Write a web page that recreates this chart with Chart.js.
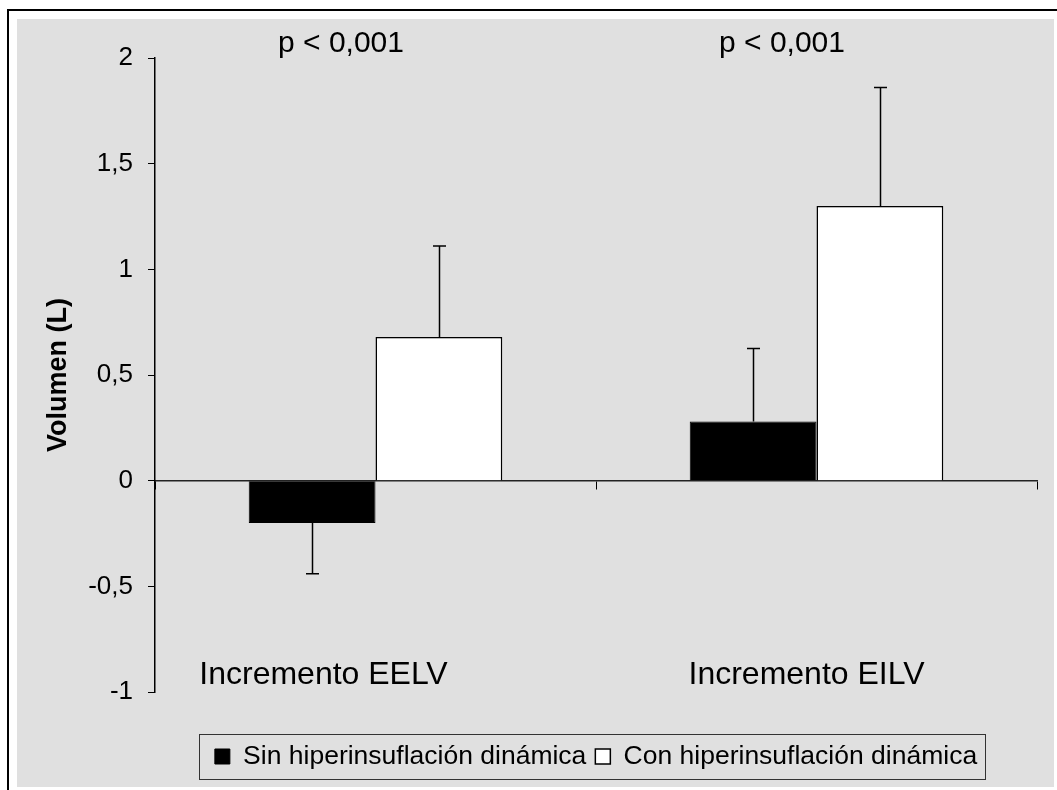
<!DOCTYPE html>
<html><head><meta charset="utf-8">
<script src="https://cdn.jsdelivr.net/npm/chart.js@4/dist/chart.umd.min.js"></script>
<style>html,body{margin:0;padding:0;background:#fff;} #wrap{width:1057px;height:790px;position:relative;}</style>
</head><body><div id="wrap"><canvas id="c"></canvas></div>
<script>
const categories = ['Incremento EELV', 'Incremento EILV'];
const seriesNames = ['Sin hiperinsuflación dinámica', 'Con hiperinsuflación dinámica'];
const sinValues = [-0.20, 0.28];
const conValues = [0.68, 1.30];
const sinErrors = [0.24, 0.345];
const conErrors = [0.43, 0.56];
const pLabels = ['p < 0,001', 'p < 0,001'];
const yTickLabels = ['-1', '-0,5', '0', '0,5', '1', '1,5', '2'];
const yTitle = 'Volumen (L)';

const FONT = "'Liberation Sans', Arial, sans-serif";

const bgPlugin = {
  id: 'bg',
  beforeDraw(chart) {
    const ctx = chart.ctx;
    ctx.save();
    ctx.fillStyle = '#ffffff';
    ctx.fillRect(0, 0, chart.width, chart.height);
    ctx.fillStyle = '#e0e0e0';
    ctx.fillRect(17, 19, 1037, 768);
    ctx.fillStyle = '#000000';
    ctx.fillRect(7, 9, 2, chart.height - 9);
    ctx.fillRect(7, 9, chart.width - 7, 2);
    ctx.restore();
  }
};

const errorPlugin = {
  id: 'errbars',
  afterDatasetsDraw(chart) {
    const ctx = chart.ctx;
    const ys = chart.scales.y;
    ctx.save();
    ctx.strokeStyle = '#000';
    ctx.lineWidth = 1.5;
    chart.data.datasets.forEach((ds, i) => {
      const meta = chart.getDatasetMeta(i);
      meta.data.forEach((el, j) => {
        const v = ds.data[j];
        const e = ds.errors[j];
        const end = v + (v < 0 ? -e : e);
        const y0 = ys.getPixelForValue(v);
        const y1 = ys.getPixelForValue(end);
        const x = Math.round(el.x) + 0.5;
        ctx.beginPath();
        ctx.moveTo(x, y0);
        ctx.lineTo(x, y1);
        ctx.moveTo(x - 6.5, y1);
        ctx.lineTo(x + 6.5, y1);
        ctx.stroke();
      });
    });
    ctx.restore();
  }
};

const textPlugin = {
  id: 'texts',
  afterDraw(chart, args, opts) {
    const ctx = chart.ctx;
    const xs = chart.scales.x;
    ctx.save();
    ctx.fillStyle = '#000';
    ctx.textAlign = 'center';
    ctx.textBaseline = 'alphabetic';
    categories.forEach((c, i) => {
      const cx = xs.getPixelForValue(i);
      ctx.font = '32px ' + FONT;
      ctx.fillText(c, cx + opts.catDx[i], opts.catBaseline);
      ctx.font = '30px ' + FONT;
      ctx.fillText(pLabels[i], cx + opts.pDx[i], opts.pBaseline);
    });
    // legend frame
    const lg = chart.legend;
    if (lg && lg.legendHitBoxes && lg.legendHitBoxes.length) {
      const hb = lg.legendHitBoxes;
      let l = Infinity, r = -Infinity, t = Infinity, b = -Infinity;
      hb.forEach(h => { l = Math.min(l, h.left); r = Math.max(r, h.left + h.width); t = Math.min(t, h.top); b = Math.max(b, h.top + h.height); });
      const cy = (t + b) / 2;
      ctx.strokeStyle = '#333';
      ctx.lineWidth = 1;
      ctx.strokeRect(Math.round(l - 16) + 0.5, Math.round(cy - 23) + 0.5, Math.round(r - l + 24), 45);
    }
    ctx.restore();
  }
};

new Chart(document.getElementById('c'), {
  type: 'bar',
  data: {
    labels: categories,
    datasets: [
      { label: seriesNames[0], data: sinValues, errors: sinErrors, backgroundColor: '#000000', borderColor: '#000000', borderWidth: 1 },
      { label: seriesNames[1], data: conValues, errors: conErrors, backgroundColor: '#ffffff', borderColor: '#000000', borderWidth: 1.5 }
    ]
  },
  plugins: [bgPlugin, errorPlugin, textPlugin],
  options: {
    responsive: true,
    maintainAspectRatio: false,
    animation: false,
    devicePixelRatio: 1,
    categoryPercentage: 0.575,
    barPercentage: 1.0,
    layout: { padding: { left: 17, right: 20, top: 58, bottom: 10.25 } },
    scales: {
      x: {
        type: 'category',
        position: { y: 0 },
        ticks: { display: false },
        grid: { drawOnChartArea: false, offset: true, tickLength: 8, color: '#000', lineWidth: 1 },
        border: { color: '#222', width: 1.5 }
      },
      y: {
        min: -1, max: 2,
        afterFit: s => { s.width = 138; },
        ticks: {
          stepSize: 0.5,
          padding: 15,
          color: '#000',
          font: { family: FONT, size: 26 },
          callback: (v, i) => yTickLabels[i] !== undefined ? yTickLabels[i] : v
        },
        grid: { drawOnChartArea: false, tickLength: 7, color: '#000', lineWidth: 1 },
        border: { color: '#000', width: 1.5 },
        title: { display: true, text: yTitle, color: '#000', font: { family: FONT, size: 27, weight: 'bold' }, padding: { top: 25, bottom: 0 } }
      }
    },
    plugins: {
      legend: {
        position: 'bottom',
        fullSize: false,
        title: { display: true, text: ' ', font: { size: 1, lineHeight: 1.25 }, padding: { top: 0, bottom: 41 } },
        labels: { boxWidth: 15, boxHeight: 15, padding: 9, color: '#000', font: { family: FONT, size: 26.5 } }
      },
      tooltip: { enabled: false },
      texts: { catDx: [-52, -10], catBaseline: 684, pDx: [-34.5, -34.5], pBaseline: 52 }
    }
  }
});
</script>
</body></html>
